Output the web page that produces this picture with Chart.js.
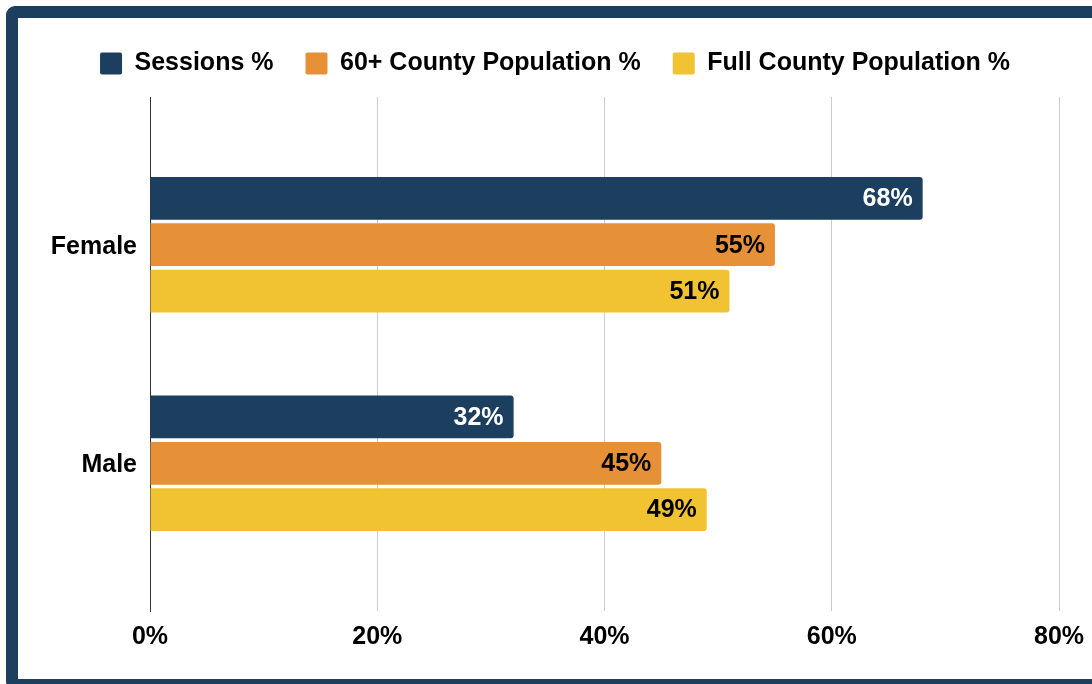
<!DOCTYPE html>
<html>
<head>
<meta charset="utf-8">
<script src="https://cdn.jsdelivr.net/npm/chart.js@4.4.1/dist/chart.umd.min.js"></script>
<style>
  html, body { margin: 0; padding: 0; background: #fff; width: 1092px; height: 684px; overflow: hidden; }
  .frame {
    position: absolute; left: 6px; top: 6px; width: 1120px; height: 685px;
    box-sizing: border-box; border: 12px solid #1c3f60; border-radius: 9px;
  }
  #wrap { position: absolute; left: 0; top: 0; width: 1092px; height: 684px; }
</style>
</head>
<body>
<div class="frame"></div>
<div id="wrap"><canvas id="c" width="1092" height="684"></canvas></div>
<script>
// Gender split: sessions vs. county population shares
const categories = ['Female', 'Male'];
const seriesNames = ['Sessions %', '60+ County Population %', 'Full County Population %'];
const sessions = [68, 32];
const county60 = [55, 45];
const countyAll = [51, 49];
const xTickValues = [0, 20, 40, 60, 80];

const FONT = '"Liberation Sans", Arial, Helvetica, sans-serif';
const FONT_SIZE = 25;
const NAVY = '#1c3f60';
const ORANGE = '#e69138';
const YELLOW = '#f1c232';

const toPoints = arr => arr.map((v, i) => ({ x: v, y: i }));

// Value labels drawn at the inner end of each bar
const valueLabels = {
  id: 'valueLabels',
  afterDatasetsDraw(chart) {
    const ctx = chart.ctx;
    ctx.save();
    ctx.font = 'bold ' + FONT_SIZE + 'px ' + FONT;
    ctx.textAlign = 'right';
    ctx.textBaseline = 'middle';
    chart.data.datasets.forEach((ds, di) => {
      const meta = chart.getDatasetMeta(di);
      meta.data.forEach((bar, i) => {
        ctx.fillStyle = ds.labelColor;
        ctx.fillText(ds.data[i].x + '%', bar.x - 10, bar.y + 1);
      });
    });
    ctx.restore();
  }
};

// Give the legend a fixed block height so the plot starts below it
const legendBlock = {
  id: 'legendBlock',
  beforeInit(chart) {
    const lg = chart.legend;
    if (!lg) return;
    const fit = lg.fit;
    lg.fit = function () {
      fit.call(this);
      this.height = 78;
    };
  }
};

const baseDataset = {
  borderWidth: 0,
  borderRadius: 3,
  barPercentage: 0.922,
  categoryPercentage: 0.636
};

new Chart(document.getElementById('c'), {
  type: 'bar',
  data: {
    datasets: [
      Object.assign({}, baseDataset, { label: seriesNames[0], data: toPoints(sessions), backgroundColor: NAVY, labelColor: '#ffffff' }),
      Object.assign({}, baseDataset, { label: seriesNames[1], data: toPoints(county60), backgroundColor: ORANGE, labelColor: '#000000' }),
      Object.assign({}, baseDataset, { label: seriesNames[2], data: toPoints(countyAll), backgroundColor: YELLOW, labelColor: '#000000' })
    ]
  },
  options: {
    indexAxis: 'y',
    responsive: false,
    devicePixelRatio: 1,
    animation: false,
    layout: { padding: { left: 51, right: 33, top: 19, bottom: 0 } },
    plugins: {
      legend: {
        position: 'top',
        align: 'center',
        labels: {
          boxWidth: 22,
          boxHeight: 22,
          padding: 32,
          useBorderRadius: true,
          borderRadius: 2,
          color: '#000',
          font: { family: FONT, size: FONT_SIZE, weight: 'bold' }
        }
      },
      tooltip: { enabled: false }
    },
    scales: {
      x: {
        type: 'linear',
        position: 'bottom',
        min: 0,
        max: 80,
        afterBuildTicks: s => { s.ticks = xTickValues.map(v => ({ value: v })); },
        afterFit: s => { s.height = 73; },
        ticks: {
          callback: v => v + '%',
          color: '#000',
          padding: 7,
          font: { family: FONT, size: FONT_SIZE, weight: 'bold', lineHeight: 1.52 }
        },
        grid: {
          drawTicks: false,
          color: ctx => (ctx.tick && ctx.tick.value === 0 ? '#333' : '#cccccc'),
          lineWidth: 1
        },
        border: { display: false }
      },
      y: {
        type: 'linear',
        reverse: true,
        offset: false,
        min: -0.676,
        max: 1.676,
        afterBuildTicks: s => { s.ticks = categories.map((_, i) => ({ value: i })); },
        afterFit: s => { s.width = 99; },
        ticks: {
          callback: v => categories[v],
          color: '#000',
          padding: 13,
          labelOffset: 2,
          font: { family: FONT, size: FONT_SIZE, weight: 'bold' }
        },
        grid: { display: false, drawTicks: false },
        border: { display: true, color: '#333', width: 1 }
      }
    }
  },
  plugins: [legendBlock, valueLabels]
});
</script>
</body>
</html>
